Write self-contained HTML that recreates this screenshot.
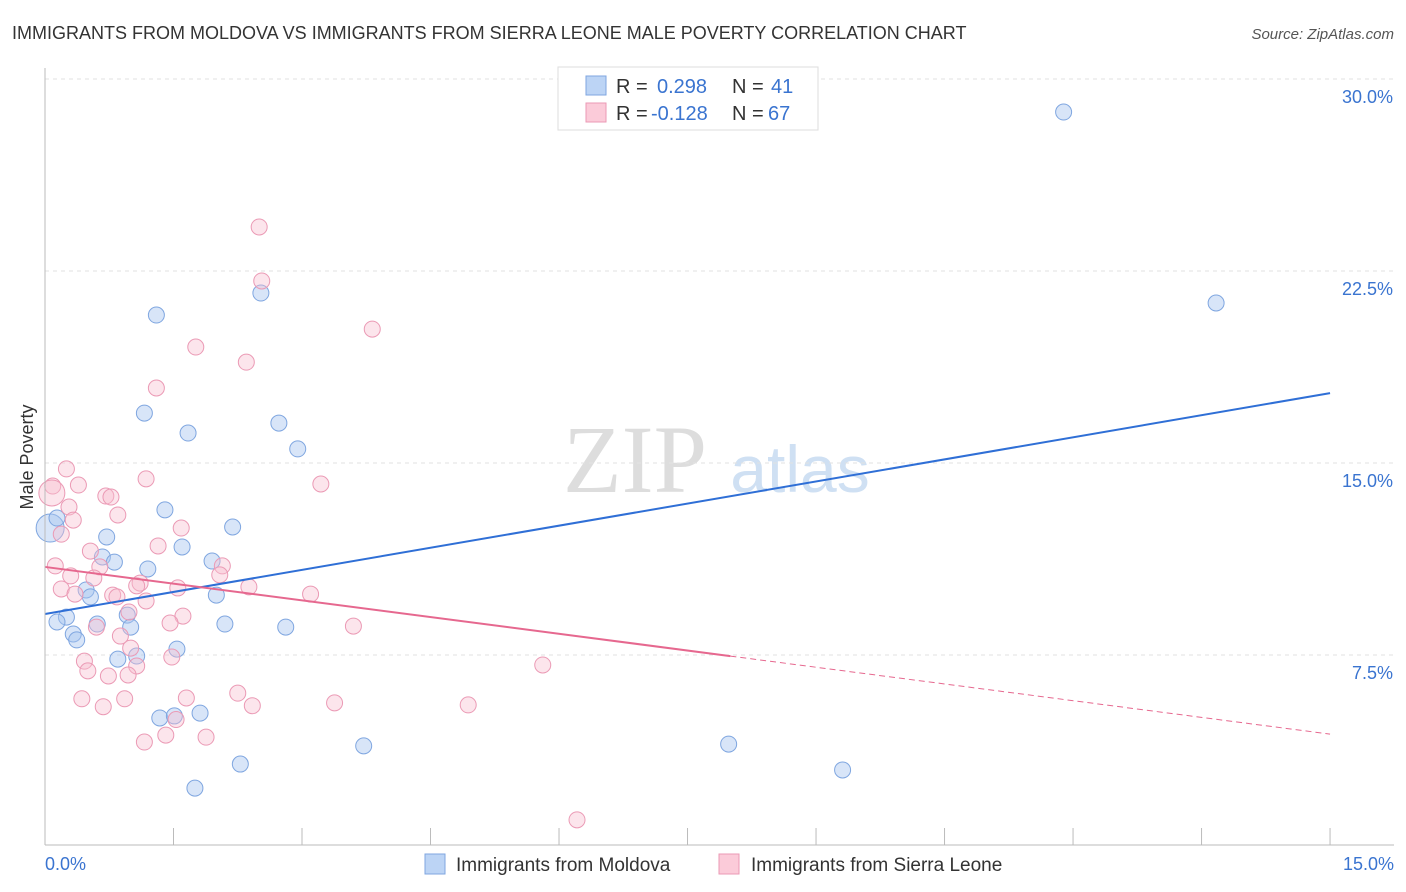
<!DOCTYPE html>
<html><head><meta charset="utf-8"><style>
body{margin:0;background:#fff;font-family:"Liberation Sans",sans-serif;}
svg{display:block}
</style></head><body>
<svg id="c" width="1406" height="892">
<text x="12" y="39" font-size="18" fill="#333">IMMIGRANTS FROM MOLDOVA VS IMMIGRANTS FROM SIERRA LEONE MALE POVERTY CORRELATION CHART</text>
<text x="1394" y="39" font-size="15" fill="#555" font-style="italic" text-anchor="end">Source: ZipAtlas.com</text>
<text x="33" y="457" font-size="18" fill="#333" transform="rotate(-90 33 457)" text-anchor="middle">Male Poverty</text>
<text x="635" y="492" font-size="96" fill="#ddd" font-family="Liberation Serif,serif" text-anchor="middle">ZIP</text>
<text x="800" y="492" font-size="66" fill="#cfe0f3" text-anchor="middle">atlas</text>
<g id="grid"></g><g id="pts"></g><g id="lines"></g>
<line x1="45" y1="845" x2="1394" y2="845" stroke="#bbb"/>
<line x1="45" y1="68" x2="45" y2="845" stroke="#bbb"/>
<text x="45" y="870" font-size="18" fill="#3a74d0">0.0%</text>
<text x="1394" y="870" font-size="18" fill="#3a74d0" text-anchor="end">15.0%</text>
<g>
<rect x="558" y="67" width="260" height="63" fill="#fff" stroke="#ddd"/>
<rect x="586" y="76" width="20" height="19" fill="#bcd4f5" stroke="#7fa6e0"/>
<rect x="586" y="103" width="20" height="19" fill="#fbcbd9" stroke="#eb9ab5"/>
<text x="616" y="93" font-size="20" fill="#333">R = <tspan fill="#3a74d0" x="657">0.298</tspan><tspan x="732" fill="#333">N = </tspan><tspan fill="#3a74d0" x="771">41</tspan></text>
<text x="616" y="120" font-size="20" fill="#333">R = <tspan fill="#3a74d0" x="651">-0.128</tspan><tspan x="732" fill="#333">N = </tspan><tspan fill="#3a74d0" x="768">67</tspan></text>
</g>
<g>
<rect x="425" y="854" width="20" height="20" fill="#bcd4f5" stroke="#7fa6e0"/>
<text x="456" y="871" font-size="19" fill="#333">Immigrants from Moldova</text>
<rect x="719" y="854" width="20" height="20" fill="#fbcbd9" stroke="#eb9ab5"/>
<text x="751" y="871" font-size="19" fill="#333">Immigrants from Sierra Leone</text>
</g>
</svg>
<script>
const yTicks=[7.5,15,22.5,30];
const yTickLabels=["7.5%","15.0%","22.5%","30.0%"];
const xTicks=[0,1.5,3,4.5,6,7.5,9,10.5,12,13.5,15];
const moldovaX=[11.89,13.67,1.30,2.52,1.16,1.67,2.73,2.95,1.40,2.19,0.72,1.60,0.67,0.81,1.20,1.95,0.48,0.53,2.0,0.96,0.25,0.14,0.61,1.00,2.10,2.81,0.33,0.37,1.54,1.07,0.85,1.34,1.51,1.81,2.28,3.72,7.98,9.31,1.75,0.06,0.14];
const moldovaY=[28.71,21.25,20.78,21.64,16.95,16.17,16.56,15.55,13.17,12.50,12.11,11.72,11.33,11.13,10.86,11.17,10.04,9.77,9.84,9.06,8.98,8.79,8.71,8.59,8.71,8.59,8.32,8.09,7.73,7.46,7.34,5.04,5.12,5.23,3.24,3.95,4.02,3.01,2.30,12.46,12.85];
const moldovaR=[8,8,8,8,8,8,8,8,8,8,8,8,8,8,8,8,8,8,8,8,8,8,8,8,8,8,8,8,8,8,8,8,8,8,8,8,8,8,8,14,8];
const leoneX=[2.50,2.53,3.82,1.76,2.35,1.30,0.25,1.18,3.22,0.09,0.39,0.71,0.77,0.28,0.85,0.33,0.19,1.59,1.32,0.53,0.12,0.64,2.07,0.30,0.57,1.11,2.04,0.19,2.38,1.07,1.55,0.35,0.79,0.84,3.10,1.18,0.98,1.61,1.46,0.60,3.60,0.88,0.46,1.00,1.48,1.07,0.50,0.74,0.97,5.81,2.25,1.65,0.43,0.93,0.68,2.42,3.38,4.94,1.53,1.41,1.88,1.16,6.21,0.08];
const leoneY=[24.22,22.11,20.23,19.53,18.94,17.93,14.77,14.38,14.18,14.10,14.14,13.71,13.67,13.28,12.97,12.77,12.22,12.46,11.76,11.56,10.98,10.94,10.98,10.59,10.51,10.31,10.63,10.08,10.16,10.20,10.12,9.88,9.84,9.77,9.88,9.61,9.18,9.02,8.75,8.59,8.63,8.24,7.26,7.77,7.42,7.07,6.88,6.68,6.72,7.11,6.01,5.82,5.79,5.79,5.48,5.52,5.63,5.55,4.98,4.37,4.29,4.10,1.06,13.83];
const leoneR=Array(64).fill(8);leoneR[63]=13;
const blueLine=[9.1,17.73];
const pinkLine=[10.94,4.41];const pinkSolidEnd=8.0;
const X=v=>45+v*85.67, Y=v=>655-(v-7.5)*25.6;
const NS="http://www.w3.org/2000/svg";
function mk(p,t,a){const e=document.createElementNS(NS,t);for(const k in a)e.setAttribute(k,a[k]);p.appendChild(e);return e;}
const grid=document.getElementById('grid'),pts=document.getElementById('pts'),lines=document.getElementById('lines'),svg=document.getElementById('c');
yTicks.forEach((t,i)=>{
 const l=mk(grid,'line',{x1:45,x2:1394,y1:Y(t),y2:Y(t),stroke:'#e2e2e2','stroke-dasharray':'4,4'});
 
 
 const tx=mk(grid,'text',{x:1393,y:Y(t)+24,'font-size':18,fill:'#3a74d0','text-anchor':'end'});tx.textContent=yTickLabels[i];
 
 
});
xTicks.forEach(t=>{
 const l=mk(grid,'line',{x1:X(t),x2:X(t),y1:828,y2:845,stroke:'#bbb'});
 
 
});
moldovaX.forEach((x,i)=>{
 const c=mk(pts,'circle',{cx:X(x),cy:Y(moldovaY[i]),r:moldovaR[i],fill:'rgba(168,198,240,0.45)',stroke:'#7fa6e0','stroke-width':1});
 
 
});
leoneX.forEach((x,i)=>{
 const c=mk(pts,'circle',{cx:X(x),cy:Y(leoneY[i]),r:leoneR[i],fill:'rgba(248,190,208,0.4)',stroke:'#eb9ab5','stroke-width':1});
 
 
});
const bl=mk(lines,'line',{x1:X(0),y1:Y(blueLine[0]),x2:X(15),y2:Y(blueLine[1]),stroke:'#2f6fd6','stroke-width':2});


const pv=x=>pinkLine[0]+(pinkLine[1]-pinkLine[0])*x/15;
const pl=mk(lines,'line',{x1:X(0),y1:Y(pv(0)),x2:X(pinkSolidEnd),y2:Y(pv(pinkSolidEnd)),stroke:'#e6688f','stroke-width':2});


const pd=mk(lines,'line',{x1:X(pinkSolidEnd),y1:Y(pv(pinkSolidEnd)),x2:X(15),y2:Y(pv(15)),stroke:'#e6688f','stroke-width':1,'stroke-dasharray':'6,4'});


</script>
</body></html>
